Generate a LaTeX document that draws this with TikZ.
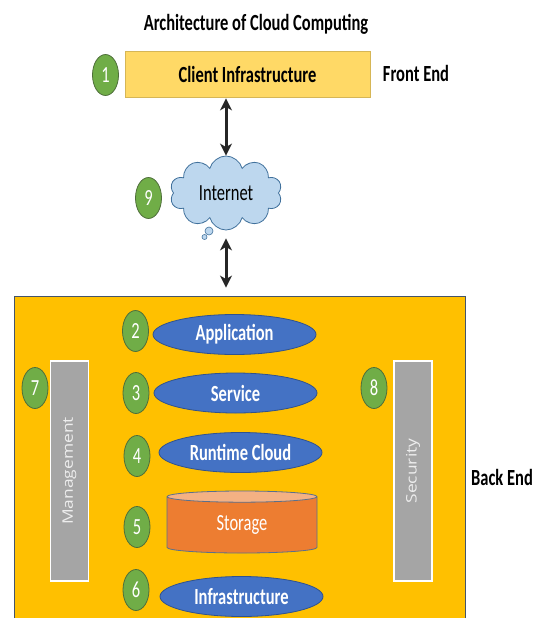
\documentclass[tikz,border=0pt]{standalone}
\usepackage{fontspec}
\setmainfont{Carlito}
\newfontfamily\barfont{Open Sans}
\usepackage{graphicx}
\usetikzlibrary{shapes.geometric,shapes.symbols,arrows.meta}
\tikzset{>={Stealth[length=12pt,width=12pt,inset=3.5pt]}}
\definecolor{clientfill}{HTML}{FFD966}
\definecolor{clientedge}{HTML}{D6B656}
\definecolor{backfill}{HTML}{FFC000}
\definecolor{backedge}{HTML}{44546A}
\definecolor{dotgreen}{HTML}{70AD47}
\definecolor{dotedge}{HTML}{4E6E3A}
\definecolor{layerblue}{HTML}{4472C4}
\definecolor{layeredge}{HTML}{2F528F}
\definecolor{storebody}{HTML}{ED7D31}
\definecolor{storetop}{HTML}{F4B183}
\definecolor{storeedge}{HTML}{5B6F8C}
\definecolor{bargray}{HTML}{A5A5A5}
\definecolor{bartext}{HTML}{EDEDED}
\definecolor{cloudfill}{HTML}{BDD7EE}
\definecolor{cloudedge}{HTML}{41719C}
\definecolor{arrowdark}{HTML}{262626}
% stretch text upright, as in the picture
\newcommand{\tallt}[1]{\scalebox{1}[1.4]{#1}}

\begin{document}
\begin{tikzpicture}[x=1pt, y=-1pt,
    every node/.style={font=\fontsize{16.5}{19}\selectfont},
    numdot/.style={ellipse, fill=dotgreen, draw=dotedge, line width=0.8pt,
        minimum width=26pt, minimum height=41pt, inner sep=0pt, text=white},
    layer/.style={ellipse, fill=layerblue, draw=layeredge, line width=0.8pt,
        minimum width=163pt, minimum height=40pt, inner sep=0pt, text=white,
        font=\fontsize{16.5}{19}\selectfont\bfseries},
    sidebar/.style={rectangle, fill=bargray, draw=white, line width=1.5pt,
        minimum width=38pt, minimum height=220pt, inner sep=0pt},
    dblarrow/.style={<->, line width=3pt, draw=arrowdark},
    sidetitle/.style={font=\fontsize{16.5}{19}\selectfont\bfseries}]
    \clip (0,0) rectangle (539,618);

    % Title and front end
    \node (title) at (256,24) {\tallt{\textbf{Architecture of Cloud Computing}}};
    \node[rectangle, fill=clientfill, draw=clientedge, line width=0.8pt,
        minimum width=245pt, minimum height=46pt, font=\fontsize{16.5}{19}\selectfont\bfseries]
        (client) at (247.5,74) {\tallt{Client Infrastructure}};
    \node[sidetitle] (frontend) at (416,73) {\tallt{Front End}};

    % Internet cloud with its thought bubbles
    \node[cloud, cloud puffs=10, aspect=1.6, fill=cloudfill, draw=cloudedge,
        line width=0.8pt, minimum width=112pt, minimum height=74pt, inner sep=0pt]
        (internet) at (226,193) {\tallt{Internet}};
    \draw[fill=cloudfill, draw=cloudedge, line width=0.6pt] (209,231) circle (4pt);
    \draw[fill=cloudfill, draw=cloudedge, line width=0.6pt] (204.5,237) circle (2.5pt);

    % Back end block
    \node[rectangle, fill=backfill, draw=backedge, line width=0.8pt,
        minimum width=451pt, minimum height=330pt, inner sep=0pt]
        (backend) at (240,461) {};
    \node[sidetitle] (backlabel) at (502,477) {\tallt{Back End}};

    % Arrows between the parts
    \draw[dblarrow, shorten <=1pt, shorten >=0pt] (internet.north |- client.south) -- (internet.north);
    \draw[dblarrow, shorten <=8pt, shorten >=8pt] (internet.south) -- (internet.south |- backend.north);

    % Layers of the back end
    \node[layer] (application) at (234.5,334.5) {\tallt{Application}};
    \node[layer] (service) at (235.5,393) {\tallt{Service}};
    \node[layer] (runtime) at (240.5,452.5) {\tallt{Runtime Cloud}};
    \node[cylinder, shape border rotate=90, aspect=0.22, draw=storeedge, line width=0.8pt,
        cylinder uses custom fill, cylinder body fill=storebody, cylinder end fill=storetop,
        minimum width=150pt, minimum height=62pt, inner sep=0pt, text=white]
        (storage) at (242,525) {\tallt{\raisebox{-3pt}{Storage}}};
    \node[layer] (infrastructure) at (241.5,596.5) {\tallt{Infrastructure}};

    % Management and security bars
    \node[sidebar] (management) at (69.5,471) {};
    \node[rotate=90, text=bartext, font=\fontsize{14.5}{17}\barfont]
        (managementtext) at (management.center) {\scalebox{1.2}[1]{Management}};
    \node[sidebar] (security) at (413,471) {};
    \node[rotate=90, text=bartext, font=\fontsize{14.5}{17}\barfont]
        (securitytext) at (security.center) {\scalebox{1.2}[1]{Security}};

    % Numbered green markers
    \foreach \n/\x/\y in {1/105.5/75, 2/135.5/331, 3/136/393, 4/137/456,
        5/137/527, 6/136/590, 7/35/388, 8/374/388, 9/148.5/198} {
        \node[numdot] (num\n) at (\x,\y) {\tallt{\n}};
    }
\end{tikzpicture}
\end{document}
